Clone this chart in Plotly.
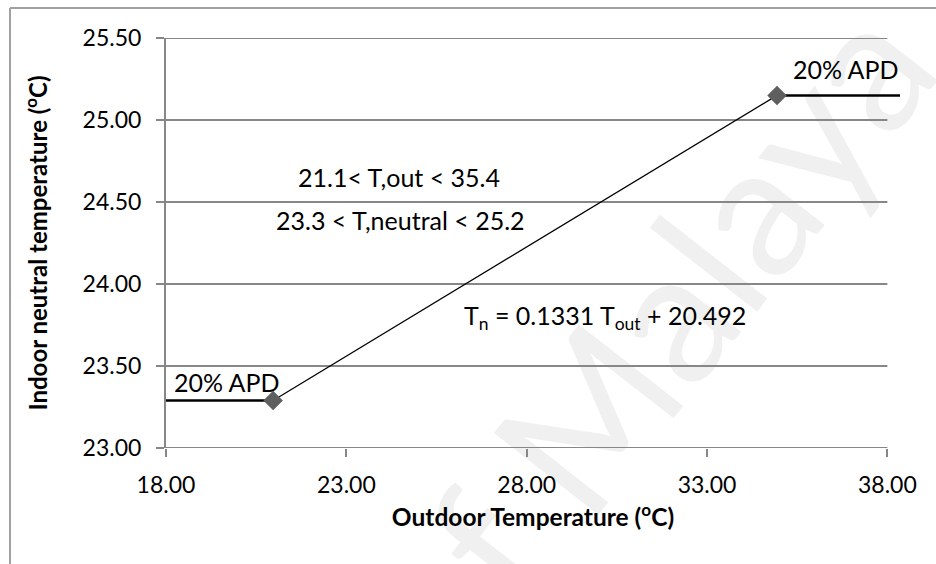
import plotly.graph_objects as go

# Adaptive comfort relation: endpoints of the regression segment
fit_x = [20.97, 34.94]
fit_y = [23.29, 25.15]

# 20% APD plateaus below and above the valid outdoor range
low_x = [18.0, 20.97]
low_y = [23.29, 23.29]
high_x = [34.94, 38.35]
high_y = [25.15, 25.15]

x_ticks = [18, 23, 28, 33, 38]
y_ticks = [23.0, 23.5, 24.0, 24.5, 25.0, 25.5]

FONT = "Lato"
GRID = "#878787"

fig = go.Figure()

fig.add_trace(go.Scatter(x=low_x, y=low_y, mode="lines",
                         line=dict(color="black", width=2.5), hoverinfo="skip"))
fig.add_trace(go.Scatter(x=high_x, y=high_y, mode="lines",
                         line=dict(color="black", width=2.5), hoverinfo="skip"))
fig.add_trace(go.Scatter(x=fit_x, y=fit_y, mode="lines+markers",
                         line=dict(color="black", width=1.3),
                         marker=dict(symbol="diamond", size=15, color="#5f5f5f"),
                         cliponaxis=False))

shapes = []
# faint background watermark
shapes.append(dict(type="rect", xref="paper", yref="paper", x0=0.60, x1=0.70, y0=0.22, y1=0.32,
                   line=dict(width=0), fillcolor="rgba(0,0,0,0)", layer="below",
                   label=dict(text="of Malaya", textangle=-52, textposition="middle center",
                              font=dict(family=FONT, size=185, color="#f0f0f0"))))
# horizontal gridlines stop at the last x tick
for yv in y_ticks:
    shapes.append(dict(type="line", xref="x", yref="y", x0=x_ticks[0], x1=x_ticks[-1],
                       y0=yv, y1=yv, line=dict(color=GRID, width=2), layer="below"))
# outer frame
shapes.append(dict(type="line", xref="paper", yref="paper", x0=-0.2125, x1=1.2,
                   y0=1.0732, y1=1.0732, line=dict(color="#a0a0a0", width=2)))
shapes.append(dict(type="line", xref="paper", yref="paper", x0=-0.2125, x1=-0.2125,
                   y0=-0.5, y1=1.0732, line=dict(color="#a0a0a0", width=2)))

ann_font = dict(family=FONT, size=25, color="black")
annotations = [
    dict(x=24.45, y=24.65, text="21.1< T,out < 35.4", showarrow=False, font=ann_font),
    dict(x=24.49, y=24.39, text="23.3 < T,neutral < 25.2", showarrow=False, font=ann_font),
    dict(x=26.21, y=23.80, text="T<sub>n</sub> = 0.1331 T<sub>out</sub> + 20.492",
         xanchor="left", showarrow=False, font=ann_font),
    dict(x=36.84, y=25.31, text="20% APD", showarrow=False, font=ann_font),
    dict(x=19.68, y=23.40, text="20% APD", showarrow=False, font=ann_font),
]

fig.update_layout(
    width=936, height=564,
    margin=dict(l=166, r=36, t=38, b=116),
    paper_bgcolor="white", plot_bgcolor="white",
    showlegend=False,
    shapes=shapes,
    annotations=annotations,
    xaxis=dict(range=[18, 38.35], tickvals=x_ticks,
               ticktext=[f"{v:.2f}" for v in x_ticks],
               showgrid=False, zeroline=False, showline=False,
               ticks="outside", ticklen=8, tickwidth=2, tickcolor=GRID,
               ticklabelstandoff=8,
               tickfont=dict(family=FONT, size=23, color="black"),
               title=dict(text="<b>Outdoor Temperature (<sup>o</sup>C)</b>",
                          font=dict(family=FONT, size=24.5, color="black"), standoff=12)),
    yaxis=dict(range=[23, 25.5], tickvals=y_ticks,
               ticktext=[f"{v:.2f}" for v in y_ticks],
               showgrid=False, zeroline=False, showline=True, linecolor=GRID, linewidth=2,
               ticks="outside", ticklen=8, tickwidth=2, tickcolor=GRID,
               ticklabelstandoff=10,
               tickfont=dict(family=FONT, size=23, color="black"),
               title=dict(text="<b>Indoor neutral temperature (<sup>o</sup>C)</b>",
                          font=dict(family=FONT, size=24, color="black"), standoff=28)),
)

fig.write_html("out.html")
